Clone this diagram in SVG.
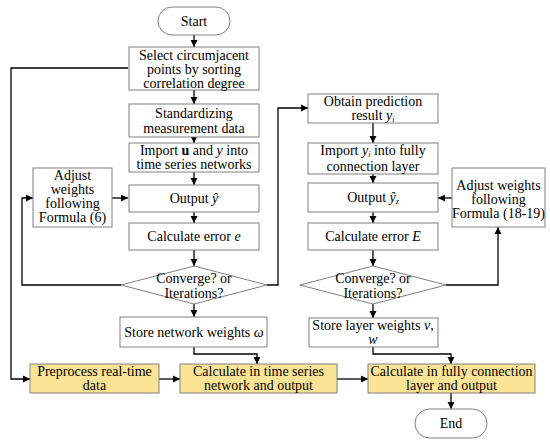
<svg xmlns="http://www.w3.org/2000/svg" width="550" height="443" viewBox="0 0 550 443">
<style>
.b{fill:#fff;stroke:#808080;stroke-width:1}
.y{fill:#fce496;stroke:#808080;stroke-width:1}
.t{font-family:"Liberation Serif","DejaVu Serif",serif;font-size:14px;fill:#000;text-anchor:middle}
.i{font-style:italic}
.s{font-size:8px;baseline-shift:-2px}
.c{fill:none;stroke:#000;stroke-width:1.3}
</style>
<defs>
<marker id="a" markerWidth="8" markerHeight="8" refX="7" refY="4" orient="auto" markerUnits="userSpaceOnUse">
<path d="M0,0.5 L7,4 L0,7.5 Z" fill="#000"/>
</marker>
</defs>
<g id="connectors">
<path class="c" d="M194,35 V47" marker-end="url(#a)"/>
<path class="c" d="M194,90 V104" marker-end="url(#a)"/>
<path class="c" d="M194,137 V143" marker-end="url(#a)"/>
<path class="c" d="M194,172 V185" marker-end="url(#a)"/>
<path class="c" d="M194,212 V223" marker-end="url(#a)"/>
<path class="c" d="M194,250 V266" marker-end="url(#a)"/>
<path class="c" d="M194,304 V317" marker-end="url(#a)"/>
<path class="c" d="M121,285 H22 V198 H33" marker-end="url(#a)"/>
<path class="c" d="M112,198 H128" marker-end="url(#a)"/>
<path class="c" d="M267,285 H278 V108 H308" marker-end="url(#a)"/>
<path class="c" d="M128,68 H11 V379 H30" marker-end="url(#a)"/>
<path class="c" d="M159,379 H180" marker-end="url(#a)"/>
<path class="c" d="M194,347 V354 H257 V364" marker-end="url(#a)"/>
<path class="c" d="M337,379 H368" marker-end="url(#a)"/>
<path class="c" d="M373,123 V143" marker-end="url(#a)"/>
<path class="c" d="M373,174 V183" marker-end="url(#a)"/>
<path class="c" d="M373,212 V223" marker-end="url(#a)"/>
<path class="c" d="M373,250 V266" marker-end="url(#a)"/>
<path class="c" d="M373,304 V318" marker-end="url(#a)"/>
<path class="c" d="M446,285 H498 V227" marker-end="url(#a)"/>
<path class="c" d="M452,198 H438" marker-end="url(#a)"/>
<path class="c" d="M373,347 V354 H451 V364" marker-end="url(#a)"/>
<path class="c" d="M451,393 V409" marker-end="url(#a)"/>
</g>
<g id="start"><rect class="b" x="158" y="7" width="72" height="28" rx="14"/><text class="t" x="194" y="26">Start</text></g>
<g id="select"><rect class="b" x="129" y="47" width="130" height="43"/><text class="t" x="194" y="60">Select circumjacent</text><text class="t" x="194" y="74">points by sorting</text><text class="t" x="194" y="88">correlation degree</text></g>
<g id="standardize"><rect class="b" x="129" y="104" width="130" height="33"/><text class="t" x="194" y="118">Standardizing</text><text class="t" x="194" y="133">measurement data</text></g>
<g id="import1"><rect class="b" x="129" y="143" width="130" height="29"/><text class="t" x="194" y="155">Import <tspan font-weight="bold">u</tspan> and <tspan class="i">y</tspan> into</text><text class="t" x="194" y="169">time series networks</text></g>
<g id="output1"><rect class="b" x="129" y="185" width="130" height="27"/><text class="t" x="194" y="203">Output <tspan class="i">ŷ</tspan></text></g>
<g id="error1"><rect class="b" x="129" y="223" width="130" height="27"/><text class="t" x="194" y="241">Calculate error <tspan class="i">e</tspan></text></g>
<g id="converge1"><polygon class="b" points="194,266 267,285 194,304 121,285"/><text class="t" x="194" y="283">Converge? or</text><text class="t" x="194" y="298">Iterations?</text></g>
<g id="adjust1"><rect class="b" x="33" y="168" width="79" height="59"/><text class="t" x="72.5" y="180">Adjust</text><text class="t" x="72.5" y="194">weights</text><text class="t" x="72.5" y="208">following</text><text class="t" x="72.5" y="222">Formula (6)</text></g>
<g id="store1"><rect class="b" x="120" y="317" width="147" height="30"/><text class="t" x="194" y="337">Store network weights <tspan class="i">ω</tspan></text></g>
<g id="preprocess"><rect class="y" x="30" y="364" width="129" height="29"/><text class="t" x="94.5" y="376">Preprocess real-time</text><text class="t" x="94.5" y="390">data</text></g>
<g id="calc-ts"><rect class="y" x="180" y="364" width="157" height="29"/><text class="t" x="258.5" y="376">Calculate in time series</text><text class="t" x="258.5" y="390">network and output</text></g>
<g id="obtain"><rect class="b" x="308" y="94" width="130" height="29"/><text class="t" x="373" y="106">Obtain prediction</text><text class="t" x="373" y="120">result <tspan class="i">y</tspan><tspan class="i s">i</tspan></text></g>
<g id="import2"><rect class="b" x="308" y="143" width="130" height="31"/><text class="t" x="373" y="155">Import  <tspan class="i">y</tspan><tspan class="i s">i</tspan> into fully</text><text class="t" x="373" y="171">connection layer</text></g>
<g id="output2"><rect class="b" x="308" y="183" width="130" height="29"/><text class="t" x="373" y="202">Output <tspan class="i">ŷ</tspan><tspan class="i s">z</tspan></text></g>
<g id="error2"><rect class="b" x="308" y="223" width="130" height="27"/><text class="t" x="373" y="241">Calculate error <tspan class="i">E</tspan></text></g>
<g id="converge2"><polygon class="b" points="373,266 446,285 373,304 300,285"/><text class="t" x="373" y="283">Converge? or</text><text class="t" x="373" y="298">Iterations?</text></g>
<g id="adjust2"><rect class="b" x="452" y="168" width="93" height="59"/><text class="t" x="498.5" y="190">Adjust weights</text><text class="t" x="498.5" y="204">following</text><text class="t" x="498.5" y="218">Formula (18-19)</text></g>
<g id="store2"><rect class="b" x="309" y="318" width="129" height="29"/><text class="t" x="373" y="330">Store layer weights <tspan class="i">v</tspan>,</text><text class="t i" x="373" y="344">w</text></g>
<g id="calc-fc"><rect class="y" x="368" y="364" width="167" height="29"/><text class="t" x="451.5" y="376">Calculate in fully connection</text><text class="t" x="451.5" y="390">layer and output</text></g>
<g id="end"><rect class="b" x="415" y="409" width="72" height="29" rx="14.5"/><text class="t" x="451" y="428">End</text></g>
</svg>
